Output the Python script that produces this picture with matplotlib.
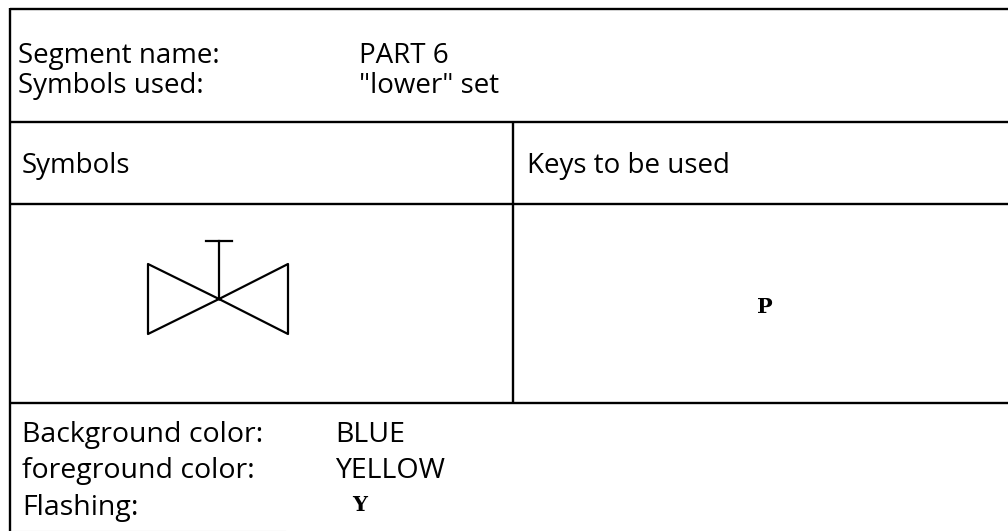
import matplotlib
matplotlib.use('Agg')
import matplotlib.pyplot as plt

W, H = 1008, 531

# table text
header_labels = ['Segment name:', 'Symbols used:']
header_values = ['PART 6', '"lower" set']
col_titles = ['Symbols', 'Keys to be used']
key_used = 'P'
footer_labels = ['Background color:', 'foreground color:', 'Flashing:']
footer_values = ['BLUE', 'YELLOW', 'Y']

# grid lines of the form, in picture pixels
h_rules = [(9, 10, 1008), (122, 10, 1008), (204, 10, 1008), (403, 10, 1008)]
v_rules = [(10, 8, 531), (513, 122, 403)]

# valve symbol
valve_outline = [(219, 299), (148, 264), (148, 334), (219, 299), (288, 264), (288, 334), (219, 299)]
valve_stem = [(219, 299), (219, 241)]
valve_cap = [(206, 241), (232, 241)]

fig = plt.figure(figsize=(W / 100, H / 100), dpi=100)
ax = fig.add_axes([0, 0, 1, 1])
ax.set_xlim(0, W)
ax.set_ylim(H, 0)
ax.axis('off')

for y, x0, x1 in h_rules:
    ax.plot([x0, x1], [y, y], color='black', lw=1.7, solid_capstyle='butt')
for x, y0, y1 in v_rules:
    ax.plot([x, x], [y0, y1], color='black', lw=1.7, solid_capstyle='butt')
ax.plot([10, 285], [530.5, 530.5], color='#c4c4c4', lw=0.8)  # faint bottom edge of the scan

for path in (valve_outline, valve_stem, valve_cap):
    ax.plot([p[0] for p in path], [p[1] for p in path], color='black', lw=1.6)

font = dict(family='Open Sans', fontsize=20, color='black', va='center')
mono = dict(family='DejaVu Serif', fontsize=15, weight='bold', ha='center', va='center')

for i, y in enumerate([56, 86]):
    ax.text(18, y, header_labels[i], **font)
    ax.text(359, y, header_values[i], **font)
ax.text(22, 166, col_titles[0], **font)
ax.text(527, 166, col_titles[1], **font)
ax.text(765, 307, key_used, **mono)

font['fontsize'] = 20.5
for i, y in enumerate([435, 471, 508]):
    ax.text(22, y, footer_labels[i], **font)
    if i < 2:
        ax.text(335, y, footer_values[i], **font)
ax.text(360, 505, footer_values[2], **mono)

fig.savefig('out.png', dpi=100)
